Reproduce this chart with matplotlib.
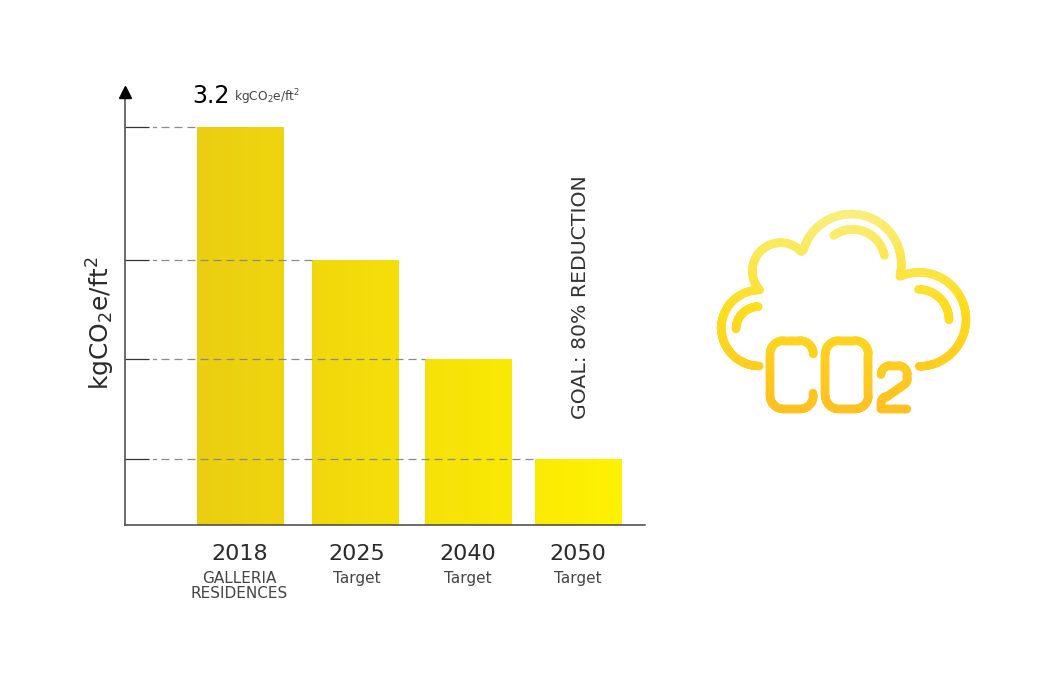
import numpy as np
import matplotlib
matplotlib.use('Agg')
import matplotlib.pyplot as plt
from matplotlib.collections import LineCollection
from matplotlib.colors import LinearSegmentedColormap

plt.rcParams['font.family'] = ['DejaVu Sans']
plt.rcParams['mathtext.default'] = 'regular'

years = ['2018', '2025', '2040', '2050']
subtitles = ['GALLERIA\nRESIDENCES', 'Target', 'Target', 'Target']
values = [3.2, 2.13, 1.33, 0.53]

W, H = 1050, 684
px_per_unit = 124.2
bar_centers = [240.5, 355.5, 468.5, 578.5]
bar_width = 87
label_centers = [239.5, 357, 468, 578]
line_ends = [200, 312, 425, 535]


def fx(x):
    return x / W


def fy(y):
    return 1 - y / H


fig = plt.figure(figsize=(W / 100, H / 100), dpi=100, facecolor='white')
ax_top, ax_bottom = 92, 524.5
ax = fig.add_axes([fx(125), fy(ax_bottom), (645 - 125) / W, (ax_bottom - ax_top) / H])

# bars with one left to right gradient running across all of them
bar_cmap = LinearSegmentedColormap.from_list('bars', ['#EBCE12', '#FFF200'])
bars = ax.bar(bar_centers, values, width=bar_width, color='none', linewidth=0)
for b in bars:
    x0, x1 = b.get_x(), b.get_x() + b.get_width()
    grad = np.linspace((x0 - 197) / 425, (x1 - 197) / 425, 64).reshape(1, -1)
    ax.imshow(grad, cmap=bar_cmap, vmin=0, vmax=1, aspect='auto', zorder=1,
              extent=[x0, x1, 0, b.get_height()])
ax.set_xlim(125, 645)
ax.set_ylim(0, (ax_bottom - ax_top) / px_per_unit)

# dashed guides, a dot then even dashes
for v, end in zip(values, line_ends):
    ax.plot([153, 156], [v, v], color='#8a8a8a', lw=0.9, zorder=2)
    ax.plot([161, end], [v, v], color='#8a8a8a', lw=0.9, dashes=(6.4, 4), zorder=2)

for s in ['top', 'right']:
    ax.spines[s].set_visible(False)
for s in ['left', 'bottom']:
    ax.spines[s].set_color('#444444')
    ax.spines[s].set_linewidth(1.1)
ax.set_yticks(values)
ax.set_yticklabels([])
ax.tick_params(axis='y', direction='in', length=17.3, width=0.9, color='#333333')
ax.set_xticks(label_centers, years)
ax.tick_params(axis='x', length=0, pad=14, labelsize=16, labelcolor='#2a2a2a')
ax.plot([0], [1], marker='^', ms=8, color='black', transform=ax.transAxes, clip_on=False, zorder=5)

for x, sub in zip(label_centers, subtitles):
    fig.text(fx(x), fy(571), sub, ha='center', va='top', fontsize=11, color='#444444', linespacing=1.0)

fig.text(fx(192), fy(103), '3.2', fontsize=17, color='black', va='baseline')
fig.text(fx(234), fy(101), 'kgCO$_2$e/ft$^2$', fontsize=8.8, color='#444444', va='baseline')
fig.text(fx(101), fy(323), 'kgCO$_2$e/ft$^2$', fontsize=18, color='#2a2a2a', rotation=90, ha='center', va='center')
fig.text(fx(581), fy(297), 'GOAL: 80% REDUCTION', fontsize=14.7, color='#333333', rotation=90, ha='center', va='center')


# CO2 cloud icon, traced in the 3x zoom coordinates of the reference
def arc(cx, cy, r, a0, a1, n=60):
    t = np.radians(np.linspace(a0, a1, n))
    return np.column_stack([cx + r * np.cos(t), cy - r * np.sin(t)])


def rounded(x0, x1, y0, y1, r):
    return np.vstack([arc(x0 + r, y0 + r, r, 90, 180, 20),
                      arc(x0 + r, y1 - r, r, 180, 270, 20),
                      arc(x1 - r, y1 - r, r, 270, 360, 20),
                      arc(x1 - r, y0 + r, r, 0, 90, 20)])


c_shape = np.vstack([[[340, 493]], arc(300, 492, 40, 0, 90, 20), arc(250, 492, 40, 90, 180, 20),
                     arc(250, 617, 40, 180, 270, 20), arc(300, 617, 40, 270, 360, 20), [[340, 610]]])
o_shape = rounded(376, 505, 452, 657, 40)
o_shape = np.vstack([o_shape, o_shape[:1]])
two_shape = np.vstack([[[543, 556]], arc(570, 554, 27, 180, 90, 15), arc(595, 554, 27, 90, 0, 15),
                       arc(600, 566, 22, 0, -50, 10), [[558, 622]],
                       arc(566, 640, 23, 120, 180, 10), [[543, 658], [622, 658]]])

strokes = [
    np.vstack([arc(178, 414, 114, 270, 90), [[178, 300]]]),
    arc(242, 243, 85, 222, 43),
    arc(454, 222, 150, 164, -14),
    arc(657, 388, 141, 114, -90),
    arc(175, 417, 67, 90, 180),
    arc(458, 215, 97, 126, 11),
    arc(655, 390, 92, 90, 0),
    c_shape, o_shape, two_shape,
]

icon_cmap = LinearSegmentedColormap.from_list('icon', [(0, '#FAEF80'), (0.5, '#FEDD1E'), (1, '#FEC022')])
ov = fig.add_axes([0, 0, 1, 1], facecolor='none')
ov.set_xlim(0, W)
ov.set_ylim(H, 0)
ov.axis('off')
for pts in strokes:
    dense = []
    for p, q in zip(pts[:-1], pts[1:]):
        n = max(int(np.hypot(*(q - p)) / 3), 1)
        for k in range(n):
            dense.append(p + (q - p) * k / n)
    dense.append(pts[-1])
    dense = np.array(dense) / 3 + [700, 190]
    segs = np.stack([dense[:-1], dense[1:]], axis=1)
    lc = LineCollection(segs, linewidths=6.1, capstyle='round', joinstyle='round')
    lc.set_color(icon_cmap((segs[:, :, 1].mean(axis=1) - 210) / 202))
    ov.add_collection(lc)

fig.savefig('out.png', dpi=100, facecolor='white')
